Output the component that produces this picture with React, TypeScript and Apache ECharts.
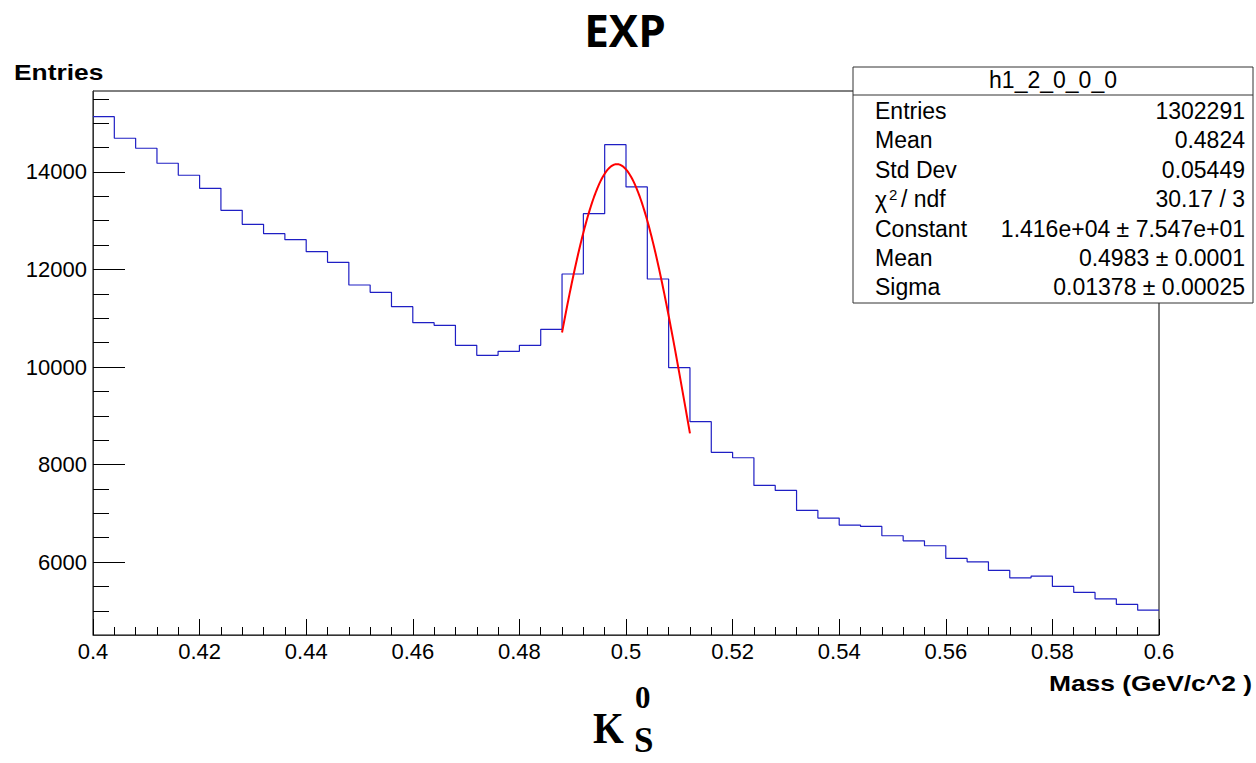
import React, { useEffect, useRef } from "react";
import * as echarts from "echarts";

// ---- histogram binning ----
const X_MIN = 0.4;
const X_MAX = 0.6;
const BIN_WIDTH = 0.004;
const Y_MIN = 4505;
const Y_MAX = 15660;

// bin contents (50 bins, 0.4 -> 0.6)
const binCounts = [
  15134, 14691, 14486, 14178, 13932, 13665, 13214, 12927, 12735, 12612,
  12365, 12147, 11682, 11532, 11237, 10909, 10855, 10445, 10240, 10322,
  10445, 10773, 11908, 13145, 14560, 13692, 11805, 9986, 8879, 8250,
  8140, 7573, 7470, 7060, 6903, 6759, 6732, 6540, 6437, 6335,
  6075, 6006, 5829, 5678, 5713, 5501, 5378, 5247, 5132, 5015,
];

// gaussian fit parameters (from the stats box)
const FIT_CONSTANT = 14160;
const FIT_MEAN = 0.4983;
const FIT_SIGMA = 0.01378;
const FIT_LOW = 0.488;
const FIT_HIGH = 0.512;

// tick labels
const xTickValues = [0.4, 0.42, 0.44, 0.46, 0.48, 0.5, 0.52, 0.54, 0.56, 0.58, 0.6];
const yTickValues = [6000, 8000, 10000, 12000, 14000];
const yMinorTickValues = [
  5000, 5500, 6000, 6500, 7000, 7500, 8000, 8500, 9000, 9500, 10000, 10500,
  11000, 11500, 12000, 12500, 13000, 13500, 14000, 14500, 15000, 15500,
];

// stats box
const statsTitle = "h1_2_0_0_0";
const statsLabels = ["Entries", "Mean", "Std Dev", "", "Constant", "Mean", "Sigma"];
const statsValues = [
  "1302291",
  "0.4824",
  "0.05449",
  "30.17 / 3",
  "1.416e+04 \u00b1 7.547e+01",
  "0.4983 \u00b1 0.0001",
  "0.01378 \u00b1 0.00025",
];

const TITLE = "EXP";
const X_TITLE = "Mass (GeV/c^2 )";
const Y_TITLE = "Entries";

export default function App() {
  const ref = useRef<HTMLDivElement>(null);

  useEffect(() => {
    if (!ref.current) return;
    const chart = echarts.init(ref.current, null, { renderer: "svg" });

    const stepData: [number, number][] = binCounts.map((v, i) => [
      +(X_MIN + i * BIN_WIDTH).toFixed(4),
      v,
    ]);
    stepData.push([X_MAX, binCounts[binCounts.length - 1]]);

    const fitData: [number, number][] = [];
    const nFit = 120;
    for (let i = 0; i <= nFit; i++) {
      const x = FIT_LOW + ((FIT_HIGH - FIT_LOW) * i) / nFit;
      const z = (x - FIT_MEAN) / FIT_SIGMA;
      fitData.push([x, FIT_CONSTANT * Math.exp(-0.5 * z * z)]);
    }

    const xMinor: number[] = [];
    for (let i = 0; i <= Math.round((X_MAX - X_MIN) / BIN_WIDTH); i++) {
      xMinor.push(+(X_MIN + i * BIN_WIDTH).toFixed(4));
    }

    const helv = "'Liberation Sans', Arial, Helvetica, sans-serif";
    const serif = "'Liberation Serif', 'DejaVu Serif', serif";
    const statsFont = "23px " + helv;
    const boxX = 853;
    const boxY = 67;
    const boxW = 400;
    const boxH = 236;
    const rowY0 = 111;
    const rowStep = 29.4;

    const graphics: any[] = [
      {
        type: "text",
        x: 625,
        y: 30,
        style: {
          text: TITLE,
          font: "bold 44px 'Open Sans', 'Noto Sans', sans-serif",
          fill: "#000",
          align: "center",
          verticalAlign: "middle",
        },
      },
      {
        type: "text",
        x: 14,
        y: 72,
        scaleX: 1.2,
        style: {
          text: Y_TITLE,
          font: "bold 22px " + helv,
          fill: "#000",
          align: "left",
          verticalAlign: "middle",
        },
      },
      {
        type: "text",
        x: 1252,
        y: 683,
        scaleX: 1.2,
        style: {
          text: X_TITLE,
          font: "bold 22px " + helv,
          fill: "#000",
          align: "right",
          verticalAlign: "middle",
        },
      },
      // K_S^0
      {
        type: "text",
        x: 593,
        y: 728,
        scaleX: 0.9,
        style: {
          text: "K",
          font: "bold 44px " + serif,
          fill: "#000",
          align: "left",
          verticalAlign: "middle",
        },
      },
      {
        type: "text",
        x: 635,
        y: 697,
        style: {
          text: "0",
          font: "bold 31px " + serif,
          fill: "#000",
          align: "left",
          verticalAlign: "middle",
        },
      },
      {
        type: "text",
        x: 634,
        y: 740,
        style: {
          text: "S",
          font: "bold 35px " + serif,
          fill: "#000",
          align: "left",
          verticalAlign: "middle",
        },
      },
      // stats box
      {
        type: "rect",
        shape: { x: boxX, y: boxY, width: boxW, height: boxH },
        style: { fill: "#fff", stroke: "#333", lineWidth: 1 },
        z: 100,
      },
      {
        type: "line",
        shape: { x1: boxX, y1: 95, x2: boxX + boxW, y2: 95 },
        style: { stroke: "#333", lineWidth: 1 },
        z: 101,
      },
      {
        type: "text",
        x: boxX + boxW / 2,
        y: 80,
        z: 101,
        style: {
          text: statsTitle,
          font: statsFont,
          fill: "#000",
          align: "center",
          verticalAlign: "middle",
        },
      },
    ];

    statsLabels.forEach((lab, i) => {
      const y = rowY0 + i * rowStep;
      if (lab) {
        graphics.push({
          type: "text",
          x: 875,
          y,
          z: 101,
          style: {
            text: lab,
            font: statsFont,
            fill: "#000",
            align: "left",
            verticalAlign: "middle",
          },
        });
      } else {
        // chi^2 / ndf
        graphics.push(
          {
            type: "text",
            x: 875,
            y: y + 1,
            z: 101,
            style: {
              text: "\u03c7",
              font: statsFont,
              fill: "#000",
              align: "left",
              verticalAlign: "middle",
            },
          },
          {
            type: "text",
            x: 889,
            y: y - 5,
            z: 101,
            style: {
              text: "2",
              font: "15px " + helv,
              fill: "#000",
              align: "left",
              verticalAlign: "middle",
            },
          },
          {
            type: "text",
            x: 901,
            y,
            z: 101,
            style: {
              text: "/ ndf",
              font: statsFont,
              fill: "#000",
              align: "left",
              verticalAlign: "middle",
            },
          }
        );
      }
      graphics.push({
        type: "text",
        x: 1245,
        y,
        z: 101,
        style: {
          text: statsValues[i],
          font: statsFont,
          fill: "#000",
          align: "right",
          verticalAlign: "middle",
        },
      });
    });

    const option: any = {
      animation: false,
      backgroundColor: "#fff",
      grid: {
        left: 93,
        top: 91,
        right: 97,
        bottom: 128,
        show: true,
        borderColor: "#000",
        borderWidth: 1,
        backgroundColor: "transparent",
      },
      xAxis: [
        {
          type: "value",
          min: X_MIN,
          max: X_MAX,
          position: "bottom",
          splitLine: { show: false },
          axisLine: { show: true, lineStyle: { color: "#333", width: 1 } },
          axisTick: {
            show: true,
            inside: true,
            length: 16,
            customValues: xTickValues,
            lineStyle: { color: "#000", width: 1 },
          },
          axisLabel: {
            show: true,
            customValues: xTickValues,
            margin: 5,
            fontSize: 22,
            fontFamily: helv,
            color: "#000",
            formatter: (v: number) => String(v),
          },
        },
        {
          type: "value",
          min: X_MIN,
          max: X_MAX,
          position: "bottom",
          splitLine: { show: false },
          axisLine: { show: false },
          axisTick: {
            show: true,
            inside: true,
            length: 8,
            customValues: xMinor,
            lineStyle: { color: "#000", width: 1 },
          },
          axisLabel: { show: false },
        },
      ],
      yAxis: [
        {
          type: "value",
          min: Y_MIN,
          max: Y_MAX,
          position: "left",
          splitLine: { show: false },
          axisLine: { show: true, lineStyle: { color: "#333", width: 1 } },
          axisTick: {
            show: true,
            inside: true,
            length: 32,
            customValues: yTickValues,
            lineStyle: { color: "#000", width: 1 },
          },
          axisLabel: {
            show: true,
            customValues: yTickValues,
            margin: 6,
            fontSize: 22,
            fontFamily: helv,
            color: "#000",
            formatter: (v: number) => String(v),
          },
        },
        {
          type: "value",
          min: Y_MIN,
          max: Y_MAX,
          position: "left",
          splitLine: { show: false },
          axisLine: { show: false },
          axisTick: {
            show: true,
            inside: true,
            length: 16,
            customValues: yMinorTickValues,
            lineStyle: { color: "#000", width: 1 },
          },
          axisLabel: { show: false },
        },
      ],
      series: [
        {
          type: "line",
          name: "hist",
          xAxisIndex: 0,
          yAxisIndex: 0,
          step: "end",
          data: stepData,
          symbol: "none",
          lineStyle: { color: "#1f1fc4", width: 1.2 },
          z: 3,
        },
        {
          type: "line",
          name: "fit",
          xAxisIndex: 0,
          yAxisIndex: 0,
          data: fitData,
          symbol: "none",
          smooth: false,
          lineStyle: { color: "#ff0000", width: 2 },
          z: 4,
        },
      ],
      graphic: graphics,
    };

    chart.setOption(option);
    return () => chart.dispose();
  }, []);

  return (
    <div
      ref={ref}
      style={{
        position: "absolute",
        left: 0,
        top: 0,
        width: 1256,
        height: 763,
        background: "#fff",
      }}
    />
  );
}
